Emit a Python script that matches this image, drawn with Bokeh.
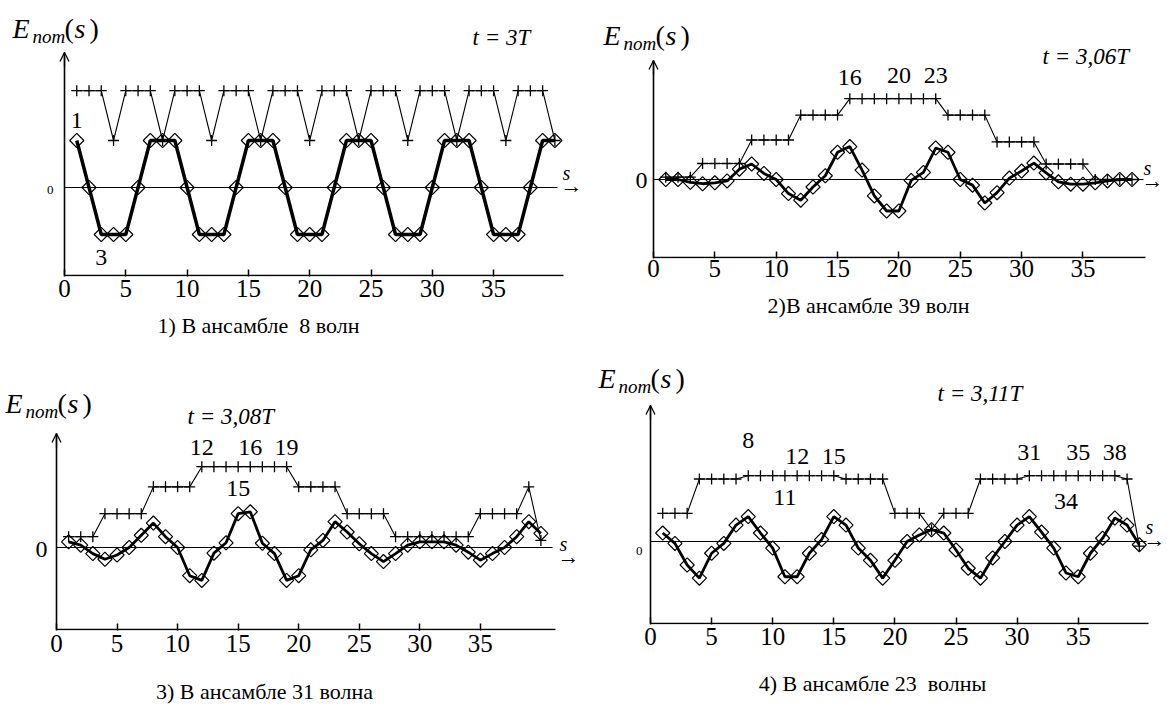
import numpy as np
from bokeh.plotting import figure
from bokeh.layouts import column, row
from bokeh.models import FixedTicker, Label, Arrow, OpenHead
from bokeh.core.properties import value
from bokeh.embed import file_html
from bokeh.resources import INLINE

FONT = "Liberation Serif"
KY = 47.0

s40 = list(range(1, 41))
s39 = list(range(1, 40))
x_ticks = [0, 5, 10, 15, 20, 25, 30, 35]

# Panel 1: 8 waves, t = 3T
p1_plus = [2.06, 2.06, 2.06, 1.0, 2.06, 2.06, 2.06, 1.0, 2.06, 2.06, 2.06, 1.0,
           2.06, 2.06, 2.06, 1.0, 2.06, 2.06, 2.06, 1.0, 2.06, 2.06, 2.06, 1.0,
           2.06, 2.06, 2.06, 1.0, 2.06, 2.06, 2.06, 1.0, 2.06, 2.06, 2.06, 1.0,
           2.06, 2.06, 2.06, 1.0]
p1_diam = [1, 0, -1, -1, -1, 0, 1, 1, 1, 0, -1, -1, -1, 0, 1, 1, 1, 0, -1, -1,
           -1, 0, 1, 1, 1, 0, -1, -1, -1, 0, 1, 1, 1, 0, -1, -1, -1, 0, 1, 1]
p1_num_x = [1, 3]
p1_num_y = [1.43, -1.49]
p1_num_t = ["1", "3"]

# Panel 2: 39 waves, t = 3,06T
p2_plus = [0.05, 0.05, 0.05, 0.34, 0.34, 0.34, 0.34, 0.84, 0.84, 0.84, 0.84,
           1.37, 1.37, 1.37, 1.37, 1.72, 1.72, 1.72, 1.72, 1.72, 1.72, 1.72, 1.72,
           1.37, 1.37, 1.37, 1.37, 0.8, 0.8, 0.8, 0.8, 0.33, 0.33, 0.33, 0.33,
           0.0, 0.0, 0.0, 0.0]
p2_diam = [0, 0, -0.06, -0.09, -0.07, -0.03, 0.22, 0.33, 0.13, 0.0,
           -0.3, -0.44, -0.16, 0.08, 0.58, 0.7, 0.2, -0.35, -0.67, -0.67,
           -0.02, 0.15, 0.67, 0.58, 0.0, -0.12, -0.5, -0.28, 0.03, 0.18,
           0.35, 0.14, -0.05, -0.1, -0.1, -0.07, -0.03, 0.0, 0.0]
p2_num_x = [16, 20, 23]
p2_num_y = [2.17, 2.21, 2.21]
p2_num_t = ["16", "20", "23"]

# Panel 3: 31 waves, t = 3,08T
p3_plus = [0.23, 0.23, 0.23, 0.72, 0.72, 0.72, 0.72, 1.29, 1.29, 1.29, 1.29,
           1.72, 1.72, 1.72, 1.72, 1.72, 1.72, 1.72, 1.72, 1.29, 1.29, 1.29, 1.29,
           0.72, 0.72, 0.72, 0.72, 0.23, 0.23, 0.23, 0.23, 0.23, 0.23, 0.23,
           0.72, 0.72, 0.72, 0.72, 1.29, 0.15]
p3_diam = [0.12, 0.05, -0.13, -0.25, -0.16, 0.0, 0.26, 0.52, 0.23, 0.0,
           -0.6, -0.7, -0.12, 0.1, 0.72, 0.76, 0.09, -0.13, -0.7, -0.6,
           -0.05, 0.15, 0.55, 0.33, 0.08, -0.13, -0.3, -0.13, 0.05, 0.12,
           0.12, 0.12, 0.05, -0.1, -0.27, -0.13, 0.0, 0.23, 0.55, 0.3]
p3_num_x = [12, 16, 19, 15]
p3_num_y = [2.13, 2.13, 2.13, 1.26]
p3_num_t = ["12", "16", "19", "15"]

# Panel 4: 23 waves, t = 3,11T
p4_plus = [0.6, 0.6, 0.6, 1.33, 1.33, 1.33, 1.33, 1.4, 1.4, 1.4, 1.4, 1.4, 1.4,
           1.4, 1.4, 1.33, 1.33, 1.33, 1.33, 0.6, 0.6, 0.6, 0.25, 0.6, 0.6, 0.6,
           1.33, 1.33, 1.33, 1.33, 1.4, 1.4, 1.4, 1.4, 1.4, 1.4, 1.4, 1.4, 1.33, -0.1]
p4_diam = [0.18, -0.04, -0.5, -0.78, -0.25, -0.04, 0.35, 0.53, 0.18, -0.14,
           -0.75, -0.75, -0.25, 0.04, 0.53, 0.35, -0.14, -0.4, -0.78, -0.4,
           0.0, 0.14, 0.25, 0.18, -0.18, -0.57, -0.78, -0.35, 0.0, 0.35,
           0.53, 0.2, -0.14, -0.67, -0.75, -0.25, 0.07, 0.5, 0.35, -0.07]
p4_num_x = [8, 12, 15, 11, 31, 35, 38, 34]
p4_num_y = [2.15, 1.81, 1.81, 0.94, 1.89, 1.89, 1.89, 0.85]
p4_num_t = ["8", "12", "15", "11", "31", "35", "38", "34"]

captions = ["1) В ансамбле \u00a08 волн", "2)В ансамбле 39 волн",
            "3) В ансамбле 31 волна", "4) В ансамбле 23 \u00a0волны"]
times = ["t = 3T", "t = 3,06T", "t = 3,08T", "t = 3,11T"]


def bare(p):
    p.title.visible = False
    p.outline_line_color = None
    p.grid.visible = False
    p.background_fill_color = "white"
    p.border_fill_color = "white"


def make_panel(geo, s, plus, diam, nx, ny, nt, tlabel, diam_lw):
    fl, ft, fw, fh = geo["fig"]
    sx0, kx, sy0 = geo["scale"]
    ax_y, ax_xend, arr_top = geo["axes"]
    fr_b = ax_y + 1

    def dx(sx):
        return (sx - sx0) / kx

    def dy(sy):
        return (sy0 - sy) / KY

    p = figure(width=fw, height=fh, x_range=(dx(fl), dx(fl + fw)),
               y_range=(dy(fr_b), dy(ft)), output_backend="svg",
               toolbar_location=None,
               min_border_left=0, min_border_right=0, min_border_top=0,
               min_border_bottom=ft + fh - fr_b)
    bare(p)
    p.yaxis.visible = False

    xa = p.xaxis[0]
    xa.ticker = FixedTicker(ticks=x_ticks)
    xa.axis_line_color = None
    xa.major_tick_line_width = 1.5
    xa.major_tick_line_color = "black"
    xa.major_tick_in = 7
    xa.major_tick_out = 0
    xa.minor_tick_in = 0
    xa.minor_tick_out = 0
    xa.major_label_text_font = FONT
    xa.major_label_text_font_size = "25px"
    xa.major_label_text_color = "black"
    xa.major_label_standoff = geo["xstand"]

    # axis lines (x axis, y axis with arrow) and the zero line
    p.segment(x0=[0, 0, 0], y0=[dy(ax_y), dy(ax_y), 0],
              x1=[dx(ax_xend), 0, dx(geo["zend"])], y1=[dy(ax_y), dy(arr_top), 0],
              line_color="black", line_width=[1.6, 1.6, 1.2])
    p.add_layout(Arrow(end=OpenHead(size=9, line_width=1.3, line_color="black"),
                       x_start=0, y_start=dy(arr_top) - 0.3, x_end=0, y_end=dy(arr_top),
                       line_width=1.3, line_color="black"))

    p.line(s, plus, line_color="black", line_width=1.1)
    p.scatter(s, plus, marker="cross", size=11, line_color="black", line_width=1.3)
    p.line(s, diam, line_color="black", line_width=diam_lw)
    p.scatter(s, diam, marker="square", angle=np.pi / 4, size=10, fill_color=None,
              line_color="black", line_width=1.2)

    p.text(x=nx, y=ny, text=nt, text_font=value(FONT), text_font_size="24px",
           text_align="center", text_baseline="middle", text_color="black")

    def lab(sx, sy, text, size, style="normal", align="left"):
        p.add_layout(Label(x=dx(sx), y=dy(sy), text=text,
                           text_font=FONT, text_font_size=f"{size}px",
                           text_font_style=style, text_align=align,
                           text_baseline="middle", text_color="black"))

    # y tick label "0"
    zx, zy, zsize = geo["zero"]
    lab(zx, zy, "0", zsize, "normal", "right")

    ex, ey = geo["elab"]
    lab(ex, ey, "E", 28, "italic")
    lab(ex + 20, ey + 8, "пот", 19, "italic")
    lab(ex + 52, ey, "(", 28)
    lab(ex + 62, ey, "s", 28, "italic")
    lab(ex + 77, ey, ")", 28)

    tx, ty = geo["tlab"]
    lab(tx, ty, tlabel, 23, "italic")

    sx, sy = geo["s"]
    lab(sx, sy, "s", 20, "italic", "center")
    lab(sx - 6, sy + 13, "→", 22)
    return p


def make_caption(fl, ft, fw, fh, text, cx, cy):
    c = figure(width=fw, height=fh, x_range=(0, fw), y_range=(0, fh),
               output_backend="svg", toolbar_location=None,
               min_border_left=0, min_border_right=0, min_border_top=0,
               min_border_bottom=0)
    bare(c)
    c.xaxis.visible = False
    c.yaxis.visible = False
    c.add_layout(Label(x=cx - fl, y=fh - (cy - ft), text=text, text_font=FONT,
                       text_font_size="22px", text_align="center",
                       text_baseline="middle", text_color="black"))
    return c


geos = [
    dict(fig=(0, 0, 593, 312), scale=(64, 12.26, 187), axes=(275, 563, 52), zend=557,
         xstand=3, zero=(53, 189, 13), elab=(12, 28), tlab=(472, 37), s=(566, 172)),
    dict(fig=(593, 0, 573, 290), scale=(653, 12.27, 179), axes=(257, 1145, 60), zend=1143,
         xstand=1, zero=(647, 180, 24), elab=(603, 35), tlab=(1042, 56), s=(1147, 167)),
    dict(fig=(0, 343, 593, 324), scale=(56, 12.11, 547), axes=(629, 555, 433), zend=552,
         xstand=4, zero=(47, 549, 24), elab=(5, 403), tlab=(187, 416), s=(563, 543)),
    dict(fig=(593, 343, 573, 317), scale=(650, 12.22, 541), axes=(623, 1148, 405), zend=1146,
         xstand=3, zero=(642, 550, 13), elab=(598, 378), tlab=(937, 393), s=(1149, 526)),
]

p1 = make_panel(geos[0], s40, p1_plus, p1_diam, p1_num_x, p1_num_y, p1_num_t, times[0], 3.5)
p2 = make_panel(geos[1], s39, p2_plus, p2_diam, p2_num_x, p2_num_y, p2_num_t, times[1], 2.8)
p3 = make_panel(geos[2], s40, p3_plus, p3_diam, p3_num_x, p3_num_y, p3_num_t, times[2], 2.8)
p4 = make_panel(geos[3], s40, p4_plus, p4_diam, p4_num_x, p4_num_y, p4_num_t, times[3], 2.8)

c1 = make_caption(0, 312, 593, 31, captions[0], 258, 325)
c2 = make_caption(593, 290, 573, 53, captions[1], 868, 305)
c3 = make_caption(0, 667, 593, 39, captions[2], 264, 691)
c4 = make_caption(593, 660, 573, 46, captions[3], 872, 683)

layout = row(column(p1, c1, p3, c3), column(p2, c2, p4, c4))
open("out.html", "w").write(file_html(layout, INLINE))
